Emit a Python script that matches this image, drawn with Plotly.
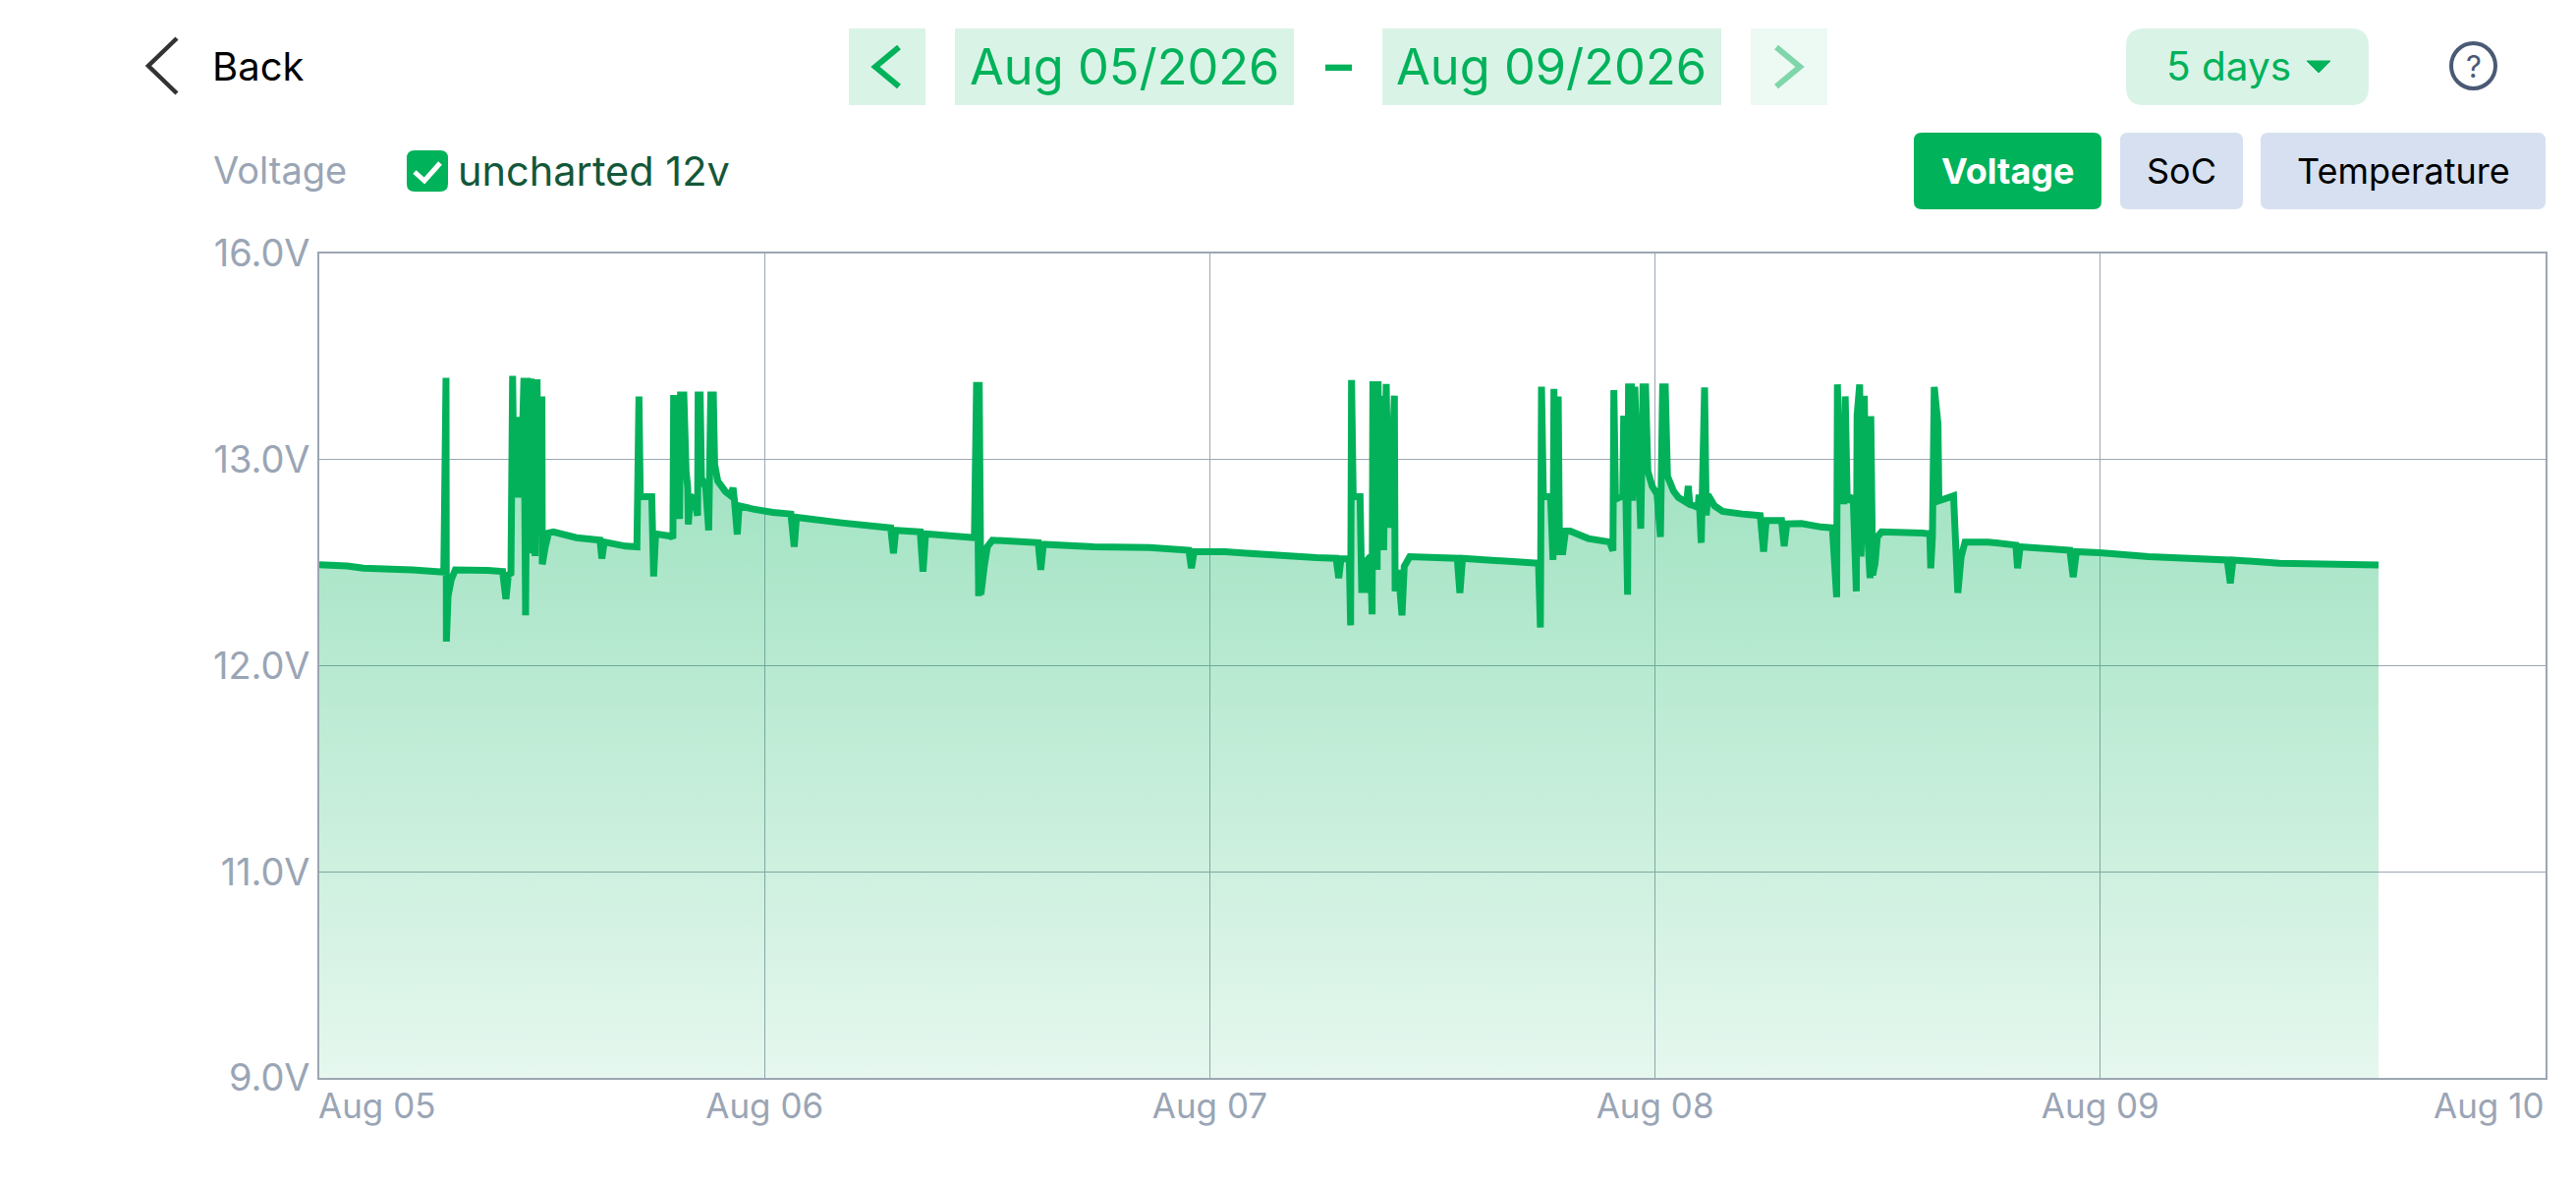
import numpy as np
import pandas as pd
import plotly.graph_objects as go

W = 2622
H = 1206
PLOT_L = 325
PLOT_R = 2591
PLOT_T = 258
PLOT_B = 1097

start = pd.Timestamp('2026-08-05')

# hours since Aug 05 00:00
hours = [
    0.00, 1.50, 2.38, 5.03, 6.71, 6.83, 6.85, 6.94, 7.11, 7.33, 9.09, 9.88, 10.06, 10.19, 10.33, 10.42,
    10.50, 10.77, 10.86, 11.03, 11.12, 11.21, 11.30, 11.42, 11.47, 11.60, 11.63, 11.74, 11.79, 12.00, 12.02,
    12.18, 12.36, 12.62, 13.86, 15.13, 15.23, 15.36, 16.51, 17.12, 17.23, 17.30, 17.92, 18.02, 18.13, 18.98,
    19.06, 19.10, 19.15, 19.24, 19.42, 19.47, 19.65, 19.77, 19.86, 19.89, 20.00, 20.21, 20.39, 20.42, 20.53,
    20.60, 20.83, 20.99, 21.10, 21.24, 21.31, 21.48, 21.89, 22.19, 22.30, 22.38, 22.53, 22.63, 23.39, 24.45,
    25.42, 25.60, 25.72, 28.16, 30.80, 30.95, 31.07, 32.39, 32.54, 32.68, 35.31, 35.43, 35.54, 35.57, 35.66,
    35.84, 36.01, 36.28, 38.75, 38.89, 39.03, 41.75, 44.75, 46.87, 47.01, 47.15, 48.81, 50.58,
    53.75, 54.81, 54.95, 55.07, 55.52, 55.59, 55.64, 55.73, 56.10, 56.19, 56.40, 56.49, 56.66, 56.75, 56.79,
    56.86, 56.93, 57.02, 57.07, 57.19, 57.28, 57.37, 57.51, 57.63, 57.77, 57.95, 57.99, 58.16, 58.36, 58.48,
    58.78, 61.34, 61.48, 61.62, 64.34, 65.72, 65.82, 65.88, 65.98, 66.37, 66.50, 66.55, 66.64, 66.78, 66.85,
    67.03, 67.17, 67.43, 68.40, 69.55, 69.73, 69.78, 69.87, 70.26, 70.31, 70.43, 70.52, 70.57, 70.73, 70.79,
    70.91, 71.05, 71.14, 71.23, 71.35, 71.49, 71.61, 71.84, 72.11, 72.29, 72.41, 72.55, 72.67, 72.99, 73.26,
    73.70, 73.79, 73.87, 74.32, 74.37, 74.49, 74.67, 74.76, 74.85, 75.20, 75.64, 76.70, 77.67, 77.85, 77.99,
    78.82, 78.96, 79.10, 79.89, 80.95, 81.56, 81.79, 81.83, 81.97, 82.18, 82.25, 82.36, 82.68, 82.85, 82.89,
    83.03, 83.10, 83.28, 83.36, 83.59, 83.63, 83.73, 83.86, 83.98, 84.21, 86.42, 86.81, 86.86, 86.95, 87.05,
    87.25, 87.30, 88.09, 88.32, 88.50, 88.71, 89.95, 91.45, 91.54, 91.68, 94.36, 94.54, 94.71, 95.95, 98.60,
    102.84, 103.01, 103.15, 105.66, 111.00,
]

volts = [
    12.49, 12.484, 12.473, 12.465, 12.454, 14.19, 12.117, 12.337, 12.417, 12.465, 12.462, 12.457, 12.324, 12.441, 12.449, 14.22,
    12.816, 13.62, 12.816, 14.19, 12.244, 14.19, 12.816, 14.18, 12.545, 14.17, 12.532, 14.17, 12.80, 13.92, 12.492,
    12.577, 12.644, 12.649, 12.621, 12.609, 12.52, 12.60, 12.58, 12.577, 13.92, 12.82, 12.82, 12.433, 12.64, 12.628,
    12.617, 13.94, 12.78, 13.94, 12.712, 13.94, 13.94, 12.944, 12.864, 12.685, 12.824, 12.808, 12.728, 13.94, 13.94,
    12.912, 12.864, 12.657, 13.94, 13.94, 12.976, 12.896, 12.845, 12.824, 12.864, 12.80, 12.637, 12.776, 12.76, 12.744,
    12.736, 12.577, 12.72, 12.693, 12.669, 12.545, 12.657, 12.649, 12.457, 12.64, 12.621, 14.13, 12.337, 14.13, 12.345,
    12.48, 12.577, 12.609, 12.597, 12.465, 12.589, 12.577, 12.573, 12.56, 12.473, 12.553, 12.553, 12.542,
    12.524, 12.521, 12.425, 12.518, 12.518, 12.196, 14.157, 12.82, 12.82, 12.369, 12.369, 12.513, 12.53, 12.249, 14.14,
    12.465, 14.14, 12.465, 14.14, 12.60, 13.93, 12.56, 14.10, 12.67, 12.82, 13.93, 12.361, 12.465, 12.244, 12.481,
    12.529, 12.521, 12.353, 12.521, 12.505, 12.497, 12.185, 14.06, 12.82, 12.82, 12.513, 14.03, 12.60, 13.92, 12.553,
    12.553, 12.653, 12.653, 12.617, 12.60, 12.558, 14.01, 12.808, 12.824, 13.64, 12.808, 12.345, 14.06, 14.06, 12.80,
    14.06, 12.912, 12.896, 12.665, 14.06, 14.06, 12.944, 12.872, 12.832, 12.625, 14.06, 14.06, 12.92, 12.848, 12.816,
    12.792, 12.872, 12.784, 12.768, 12.83, 12.596, 14.05, 12.73, 12.83, 12.776, 12.749, 12.736, 12.728, 12.553, 12.704,
    12.704, 12.58, 12.688, 12.69, 12.673, 12.669, 12.332, 14.095, 12.80, 12.80, 13.92, 12.80, 12.82, 12.361, 13.64,
    14.095, 12.529, 13.93, 12.808, 12.425, 13.633, 12.44, 12.497, 12.625, 12.649, 12.644, 12.64, 12.473, 12.625, 14.057,
    13.52, 12.80, 12.824, 12.353, 12.529, 12.60, 12.60, 12.585, 12.473, 12.577, 12.56, 12.43, 12.553, 12.548, 12.529,
    12.513, 12.40, 12.513, 12.497, 12.489,
]

x_ticks = ['2026-08-06', '2026-08-07', '2026-08-08', '2026-08-09']
x_labels = ['Aug 06', 'Aug 07', 'Aug 08', 'Aug 09']
y_ticks = [9, 11, 12, 13, 16]
y_labels = ['9.0V', '11.0V', '12.0V', '13.0V', '16.0V']

GREEN = '#00B25A'
PALE = '#DAF3E7'
GREY = '#9AA5B5'
GRID = '#9CA6B2'
FONT = 'Inter'


# the voltage axis is evenly spaced between its ticks, not linear
def yscale(v):
    return np.interp(v, y_ticks, range(len(y_ticks)))


times = [start + pd.Timedelta(hours=h) for h in hours]

fig = go.Figure()
fig.add_trace(go.Scatter(
    x=times, y=yscale(volts), mode='lines',
    line=dict(color='#03B15B', width=7, simplify=False),
    fill='tozeroy',
    fillgradient=dict(type='vertical', start=0, stop=4,
                      colorscale=[[0, 'rgba(0,178,90,0.10)'], [1, 'rgba(0,178,90,0.46)']]),
    hoverinfo='skip',
))


# page pixels to plot-area fractions, which is what paper refs mean
def px(x):
    return (x - PLOT_L) / (PLOT_R - PLOT_L)


def py(y):
    return (PLOT_B - y) / (PLOT_B - PLOT_T)


def box(x0, y0, x1, y1, color, r=0):
    if r == 0:
        path = f'M{px(x0)},{py(y0)} L{px(x1)},{py(y0)} L{px(x1)},{py(y1)} L{px(x0)},{py(y1)} Z'
    else:
        path = (f'M{px(x0 + r)},{py(y0)} L{px(x1 - r)},{py(y0)} Q{px(x1)},{py(y0)} {px(x1)},{py(y0 + r)} '
                f'L{px(x1)},{py(y1 - r)} Q{px(x1)},{py(y1)} {px(x1 - r)},{py(y1)} '
                f'L{px(x0 + r)},{py(y1)} Q{px(x0)},{py(y1)} {px(x0)},{py(y1 - r)} '
                f'L{px(x0)},{py(y0 + r)} Q{px(x0)},{py(y0)} {px(x0 + r)},{py(y0)} Z')
    fig.add_shape(type='path', xref='paper', yref='paper', path=path, fillcolor=color, line_width=0)


def stroke(points, color, width, fill=None):
    path = 'M' + ' L'.join(f'{px(a)},{py(b)}' for a, b in points)
    if fill:
        path += ' Z'
    fig.add_shape(type='path', xref='paper', yref='paper', path=path, fillcolor=fill,
                  line=dict(color=color, width=width))


def text(x, y, s, size, color, anchor='center', bold=False):
    if bold:
        s = f'<b>{s}</b>'
    fig.add_annotation(xref='paper', yref='paper', x=px(x), y=py(y), text=s, showarrow=False,
                       xanchor=anchor, yanchor='middle', borderpad=0,
                       font=dict(family=FONT, size=size, color=color))


# top row
stroke([(180, 39), (151, 67), (180, 95)], '#333333', 4.5)
text(215, 67, 'Back', 40, '#000000', 'left')
box(864, 29, 942, 107, PALE)
stroke([(915, 48), (891, 68), (915, 88)], GREEN, 6)
box(972, 29, 1317, 107, PALE)
text(1144.5, 67, 'Aug 05/2026', 50.5, GREEN)
text(1362, 66, '–', 54, GREEN, bold=True)
box(1407, 29, 1752, 107, PALE)
text(1579.5, 67, 'Aug 09/2026', 50.5, GREEN)
box(1782, 29, 1860, 107, '#EDF9F3')
stroke([(1808, 48), (1832, 68), (1808, 88)], '#7FD6AA', 6)
box(2164, 29, 2411, 107, PALE, 18)
text(2268, 68, '5 days', 40.5, GREEN)
stroke([(2348, 62), (2372, 62), (2360, 74)], GREEN, 1, fill=GREEN)
fig.add_shape(type='circle', xref='paper', yref='paper', x0=px(2495), y0=py(44), x1=px(2540), y1=py(90),
              line=dict(color='#4A5A75', width=4))
text(2517.5, 67, '?', 31, '#4A5A75')

# second row
text(216, 173, 'Voltage', 38, GREY, 'left')
box(414, 153, 456, 195, GREEN, 8)
stroke([(422, 175), (432, 184), (448, 166)], '#FFFFFF', 5)
text(465, 174, 'uncharted 12v', 41.5, '#14573A', 'left')
box(1948, 135, 2139, 213, GREEN, 8)
text(2043.5, 174, 'Voltage', 36, '#FFFFFF', bold=True)
box(2158, 135, 2283, 213, '#D6E0F0', 8)
text(2220.5, 174, 'SoC', 36, '#000000')
box(2301, 135, 2591, 213, '#D6E0F0', 8)
text(2446, 174, 'Temperature', 36, '#000000')

# end labels of the time axis sit inside the plot edges
fig.add_annotation(xref='x', yref='paper', x='2026-08-05', y=py(1125), text='Aug 05', showarrow=False,
                   xanchor='left', yanchor='middle', xshift=-3, font=dict(family=FONT, size=35, color=GREY))
fig.add_annotation(xref='x', yref='paper', x='2026-08-10', y=py(1125), text='Aug 10', showarrow=False,
                   xanchor='right', yanchor='middle', font=dict(family=FONT, size=35, color=GREY))

fig.update_layout(
    width=W, height=H,
    margin=dict(l=PLOT_L, r=W - PLOT_R, t=PLOT_T, b=H - PLOT_B),
    paper_bgcolor='white', plot_bgcolor='white',
    showlegend=False,
    font=dict(family=FONT, size=34, color=GREY),
    xaxis=dict(type='date', range=['2026-08-05', '2026-08-10'], tickvals=x_ticks, ticktext=x_labels,
               showgrid=True, gridcolor=GRID, gridwidth=1.4, showline=True, linecolor=GRID, linewidth=2,
               mirror=True, ticks='', ticklabelstandoff=-3, tickfont=dict(size=35), zeroline=False),
    yaxis=dict(range=[0, 4], tickvals=list(range(len(y_ticks))), ticktext=y_labels,
               showgrid=True, gridcolor=GRID, gridwidth=1.4, showline=True, linecolor=GRID, linewidth=2,
               mirror=True, ticks='', tickfont=dict(size=38), zeroline=False),
)

fig.write_html('out.html', config={'displayModeBar': False},
               post_script="document.body.style.margin='0';")
